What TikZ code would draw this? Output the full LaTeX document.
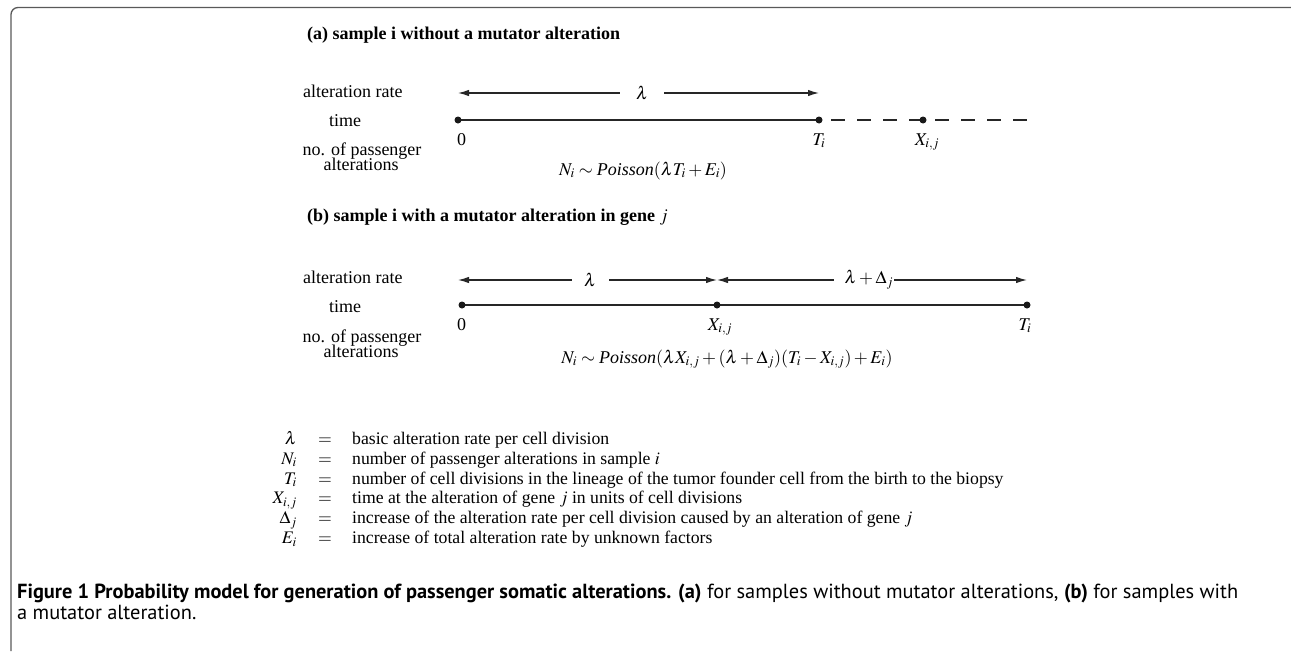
\documentclass[tikz,border=0pt]{standalone}
\usepackage{mathptmx}
\usepackage{fontspec}
\setmainfont{Liberation Serif}
\newfontfamily\capfont{PT Sans}
\usetikzlibrary{arrows.meta}
\tikzset{
  lbl/.style={inner sep=0pt, anchor=base, font=\fontsize{18}{12}\selectfont},
  leg/.style={inner sep=0pt, anchor=base, font=\fontsize{17.7}{12}\selectfont},
  ttl/.style={inner sep=0pt, anchor=base west, font=\fontsize{18}{12}\selectfont\bfseries},
  dotnode/.style={circle, fill=black!90, inner sep=0pt, minimum size=7pt},
  tline/.style={line width=1.4pt, draw=black!85},
  rate/.style={line width=1.2pt, draw=black!85, {Latex[length=11pt,width=6.5pt]}-{Latex[length=11pt,width=6.5pt]}},
  gapnode/.style={fill=white, inner ysep=2pt, font=\fontsize{18}{12}\selectfont, text=black},
  frame/.style={draw=black!65, line width=1.3pt, rounded corners=7pt}
}
\begin{document}
\begin{tikzpicture}[x=1pt,y=-1pt]
\useasboundingbox (0,0) rectangle (1291,651);
\coordinate (fb) at (11,651);
\coordinate (fc) at (11,7.5);
\coordinate (fr) at (1291,7.5);
\draw[frame] (fb) -- (fc) -- (fr);

% ---------- (a) ----------
\node[ttl] (ta) at (307,39) {(a) sample i without a mutator alteration};
\node[lbl, anchor=base west] (ra) at (303,97) {alteration rate};
\node[lbl] (tia) at (345,126.5) {time};
\node[lbl] (npa) at (362,155) {no. of passenger};
\node[lbl] (ala) at (361,170) {alterations};

\coordinate (a0) at (458,120);
\coordinate (aT) at (819,120);
\coordinate (aX) at (923,120);
\coordinate (aE) at (1028,120);
\coordinate (ra0) at (458,93);
\coordinate (raT) at (819,93);
\draw[tline] (a0) -- (aT);
\draw[tline, dash pattern=on 14pt off 12pt, dash phase=14pt] (aT) -- (aE);
\draw[rate] (ra0) -- node[gapnode, pos=0.51, inner xsep=16pt] (la) {$\lambda$} (raT);
\node[dotnode] (da0) at (a0) {};
\node[dotnode] (daT) at (aT) {};
\node[dotnode] (daX) at (aX) {};
\node[lbl, anchor=base west] (za) at (457,145) {0};
\node[lbl] (Ta) at (819,145) {$T_i$};
\node[lbl] (Xa) at (927,145) {$X_{i,j}$};
\node[lbl] (fa) at (643,175) {$N_i \sim \textit{Poisson}(\lambda T_i+E_i)$};

% ---------- (b) ----------
\node[ttl] (tb) at (307,221) {(b) sample i with a mutator alteration in gene \mdseries$j$};
\node[lbl, anchor=base west] (rb) at (303,283) {alteration rate};
\node[lbl] (tib) at (345,312.5) {time};
\node[lbl] (npb) at (362,342) {no. of passenger};
\node[lbl] (alb) at (361,357) {alterations};

\coordinate (b0) at (462,305);
\coordinate (bX) at (717,305);
\coordinate (bT) at (1027,305);
\coordinate (rb0) at (458,280);
\coordinate (rbX) at (717,280);
\coordinate (rbT) at (1027,280);
\draw[tline] (b0) -- (bT);
\draw[rate] (rb0) -- node[gapnode, pos=0.51, inner xsep=12.5pt] (lb) {$\lambda$} (rbX);
\draw[rate] (rbX) -- node[gapnode, pos=0.474, inner xsep=1pt] (ldb) {\hspace{10pt}$\lambda+\Delta_j$} (rbT);
\node[dotnode] (db0) at (b0) {};
\node[dotnode] (dbX) at (bX) {};
\node[dotnode] (dbT) at (bT) {};
\node[lbl, anchor=base west] (zb) at (457,330) {0};
\node[lbl] (Xb) at (720,330) {$X_{i,j}$};
\node[lbl] (Tb) at (1025,330) {$T_i$};
\node[lbl] (fb2) at (727,363) {$N_i\sim \textit{Poisson}(\lambda X_{i,j}+(\lambda+\Delta_j)(T_i-X_{i,j})+E_i)$};

% ---------- legend ----------
\foreach \s/\t [count=\k from 0] in {
  {$\lambda$}/{basic alteration rate per cell division},
  {$N_i$}/{number of passenger alterations in sample $i$},
  {$T_i$}/{number of cell divisions in the lineage of the tumor founder cell from the birth to the biopsy},
  {$X_{i,j}$}/{time at the alteration of gene $j$ in units of cell divisions},
  {$\Delta_j$}/{increase of the alteration rate per cell division caused by an alteration of gene $j$},
  {$E_i$}/{increase of total alteration rate by unknown factors}} {
  \node[leg, anchor=base east] (sym\k) at (297,444.5+19.8*\k) {\s};
  \node[leg] (eq\k) at (325,444.5+19.8*\k) {$=$};
  \node[leg, anchor=base west] (def\k) at (352,444.5+19.8*\k) {\t};
}

% ---------- caption ----------
\node[inner sep=0pt, anchor=base west, align=left, font=\capfont\fontsize{20.4}{20.5}\selectfont] (cap) at (17,619)
 {\textbf{Figure 1 Probability model for generation of passenger somatic alterations. (a)} for samples without mutator alterations, \textbf{(b)} for samples with\\
 a mutator alteration.};
\end{tikzpicture}
\end{document}
